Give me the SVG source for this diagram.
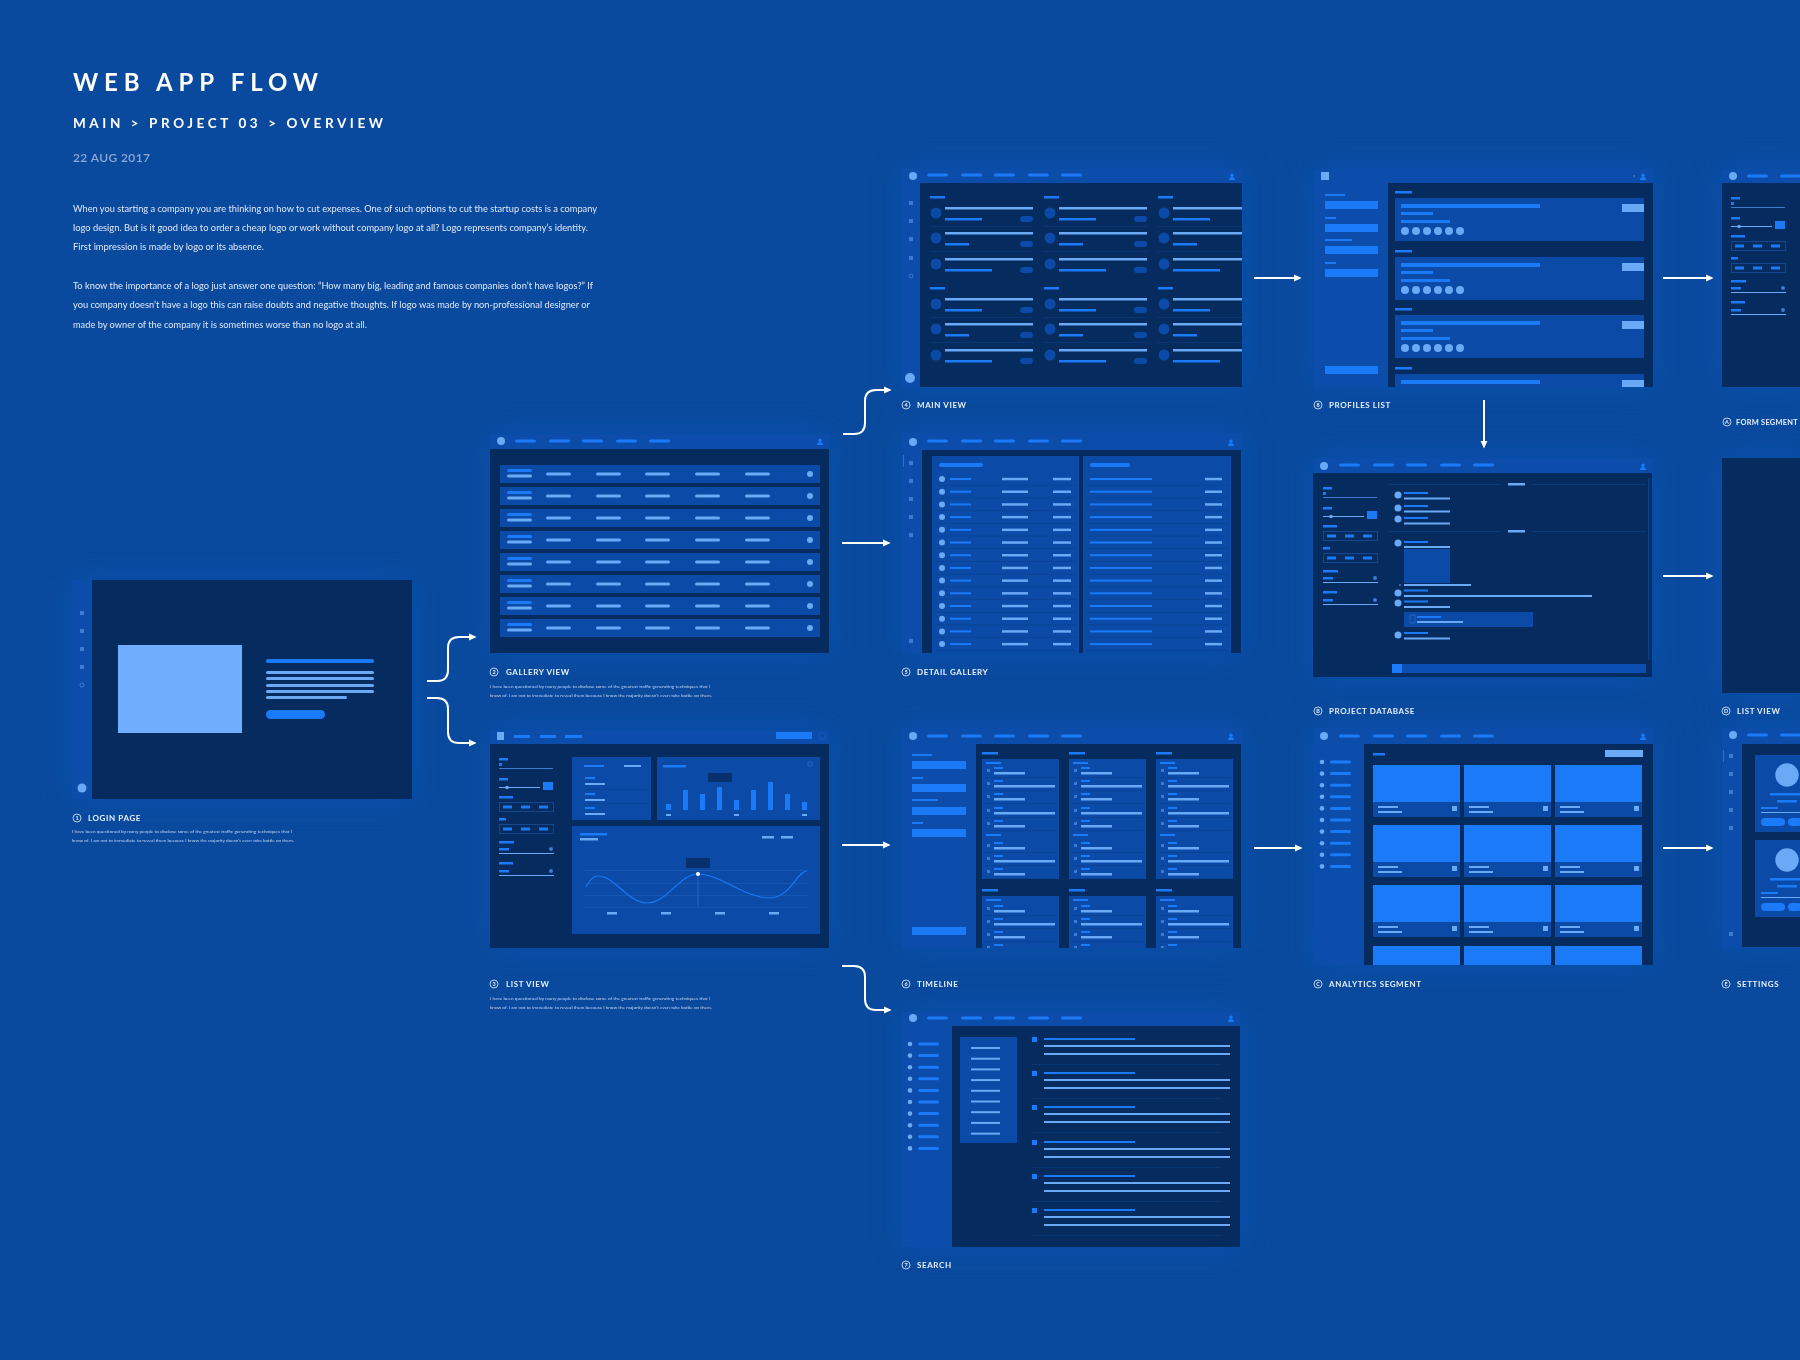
<svg xmlns="http://www.w3.org/2000/svg" xmlns:xlink="http://www.w3.org/1999/xlink" width="1800" height="1360" viewBox="0 0 1800 1360">
<style>
.fr{fill:#0c4cab}.dk{fill:#062b5e}.md{fill:#0b4aa6}.b{fill:#1a7af8}.l{fill:#6aa9f5}.ld{fill:#3d7ad0}.sep{fill:#0c3f86}
.glow{fill:#1c5cc0;opacity:0.45}
.ttl{font-family:Lato,"Open Sans",sans-serif;font-weight:700;fill:#ffffff}
.par{font-family:Lato,"Open Sans",sans-serif;font-size:9.5px;fill:#dfe8f8}
.lab{font-family:Lato,"Open Sans",sans-serif;font-weight:700;font-size:8px;letter-spacing:0.6px;fill:#e6eefb}
.num{font-family:Lato,"Open Sans",sans-serif;font-weight:700;font-size:5.5px;fill:#e6eefb;text-anchor:middle}
.nc{fill:none;stroke:#e6eefb;stroke-width:0.8}
.desc{font-family:Lato,"Open Sans",sans-serif;font-size:4.3px;fill:#c3d3ee}
.con{fill:none;stroke:#ffffff;stroke-width:2}
</style>
<defs>
<filter id="blur" x="-20%" y="-20%" width="140%" height="140%"><feGaussianBlur stdDeviation="14"/></filter>
<marker id="ah" viewBox="0 0 10 10" refX="8" refY="5" markerWidth="8" markerHeight="8" markerUnits="userSpaceOnUse" orient="auto"><path d="M0,0.5 L10,5 L0,9.5 z" fill="#ffffff"/></marker>
<clipPath id="cMV"><rect x="920" y="183" width="322" height="204"/></clipPath>
<clipPath id="cPL"><rect x="1388" y="183" width="265" height="204"/></clipPath>
<clipPath id="cTL"><rect x="976" y="744" width="265" height="204"/></clipPath>
<clipPath id="cAN"><rect x="1364" y="744" width="289" height="221"/></clipPath>
<g id="person"><circle cx="0" cy="-1.8" r="1.7" class="b"/><path d="M-3,3 Q-3,0 0,0 Q3,0 3,3 z" class="b"/></g>
<g id="filter">
<rect x="0" y="-1" width="9" height="2.5" class="b"/><rect x="0" y="4" width="3" height="3" class="b"/><rect x="0" y="9" width="54" height="1" class="ld"/>
<rect x="0" y="19" width="9" height="2.5" class="b"/><rect x="0" y="28" width="41" height="1" class="l"/><circle cx="8" cy="28.5" r="1.8" class="l"/><rect x="44" y="23" width="10" height="8" class="b"/>
<rect x="0" y="37" width="14" height="2.5" class="b"/><rect x="0.5" y="43.5" width="54" height="9" fill="none" stroke="#1a4f9e" stroke-width="0.8"/><rect x="4" y="46.5" width="9" height="3" class="b"/><rect x="22" y="46.5" width="9" height="3" class="b"/><rect x="40" y="46.5" width="9" height="3" class="b"/>
<rect x="0" y="59" width="7" height="2.5" class="b"/><rect x="0.5" y="65.5" width="54" height="9" fill="none" stroke="#1a4f9e" stroke-width="0.8"/><rect x="4" y="68.5" width="9" height="3" class="b"/><rect x="22" y="68.5" width="9" height="3" class="b"/><rect x="40" y="68.5" width="9" height="3" class="b"/>
<rect x="0" y="82" width="15" height="2.5" class="b"/><rect x="0" y="89" width="10" height="2.5" class="b"/><circle cx="52" cy="90" r="2" class="ld"/><rect x="0" y="94" width="55" height="1" class="l"/>
<rect x="0" y="103" width="14" height="2.5" class="b"/><rect x="0" y="111" width="10" height="2.5" class="b"/><circle cx="52" cy="112" r="2" class="ld"/><rect x="0" y="116" width="55" height="1" class="l"/>
</g>
<g id="nav5"><rect x="0" y="-1.5" width="21" height="3" rx="1.5" class="b"/><rect x="34" y="-1.5" width="21" height="3" rx="1.5" class="b"/><rect x="67" y="-1.5" width="21" height="3" rx="1.5" class="b"/><rect x="101" y="-1.5" width="21" height="3" rx="1.5" class="b"/><rect x="134" y="-1.5" width="21" height="3" rx="1.5" class="b"/></g>
<g id="gr"><rect x="500" y="0" width="320" height="18" class="md"/><rect x="507" y="4" width="25" height="3" rx="1.5" class="b"/><rect x="507" y="9.5" width="25" height="3" rx="1.5" class="l"/><rect x="546" y="7.5" width="25" height="3" rx="1.5" class="l"/><rect x="596" y="7.5" width="25" height="3" rx="1.5" class="l"/><rect x="645" y="7.5" width="25" height="3" rx="1.5" class="l"/><rect x="695" y="7.5" width="25" height="3" rx="1.5" class="l"/><rect x="745" y="7.5" width="25" height="3" rx="1.5" class="l"/><circle cx="810" cy="9" r="3" class="l"/></g>
<g id="mvgrp"><rect x="930" y="0" width="15" height="2.5" class="b"/>
<circle cx="936" cy="17" r="5.5" class="md"/><rect x="945" y="11" width="88" height="2.5" class="l"/><rect x="945" y="22" width="37" height="2.5" class="b"/><rect x="1020" y="20" width="13" height="6" rx="3" class="md"/><rect x="930" y="30" width="103" height="0.6" class="sep"/>
<circle cx="936" cy="42" r="5.5" class="md"/><rect x="945" y="36" width="88" height="2.5" class="l"/><rect x="945" y="47" width="24" height="2.5" class="b"/><rect x="1020" y="45" width="13" height="6" rx="3" class="md"/><rect x="930" y="55" width="103" height="0.6" class="sep"/>
<circle cx="936" cy="68" r="5.5" class="md"/><rect x="945" y="62" width="88" height="2.5" class="l"/><rect x="945" y="73" width="47" height="2.5" class="b"/><rect x="1020" y="71" width="13" height="6" rx="3" class="md"/></g>
<g id="dgr"><circle cx="942" cy="0" r="3" class="l"/><rect x="950" y="-1" width="21" height="2" class="b"/><rect x="1002" y="-1.2" width="26" height="2.5" class="l"/><rect x="1053" y="-1.2" width="18" height="2.5" class="l"/><rect x="1090" y="-1" width="62" height="2" class="b"/><rect x="1205" y="-1.2" width="17" height="2.5" class="l"/><rect x="935" y="6" width="141" height="0.5" class="sep"/><rect x="1086" y="6" width="142" height="0.5" class="sep"/></g>
<g id="pcard"><rect x="1395" y="-7" width="17" height="2.5" class="b"/><rect x="1395" y="0" width="249" height="43" class="md"/><rect x="1401" y="6" width="139" height="4" class="b"/><rect x="1401" y="14" width="32" height="3" class="b"/><rect x="1401" y="22" width="49" height="3" class="b"/><circle cx="1405" cy="33" r="4" class="l"/><circle cx="1416" cy="33" r="4" class="l"/><circle cx="1427" cy="33" r="4" class="l"/><circle cx="1438" cy="33" r="4" class="l"/><circle cx="1449" cy="33" r="4" class="l"/><circle cx="1460" cy="33" r="4" class="l"/><rect x="1622" y="6" width="22" height="8" class="l"/></g>
<g id="tli"><rect x="987" y="-1" width="3" height="3" class="ld"/><rect x="994" y="-3" width="9" height="2" class="b"/><rect x="985" y="7" width="71" height="0.5" class="sep"/></g>
<g id="tlcol"><rect x="982" y="752" width="16" height="2.5" class="b"/><rect x="982" y="759" width="77" height="120" class="md"/><rect x="986" y="762" width="15" height="2" class="b"/>
<use xlink:href="#tli" y="770"/><rect x="994" y="772" width="31" height="2.5" class="l"/>
<use xlink:href="#tli" y="783"/><rect x="994" y="785" width="61" height="2.5" class="l"/>
<use xlink:href="#tli" y="796"/><rect x="994" y="798" width="31" height="2.5" class="l"/>
<use xlink:href="#tli" y="810"/><rect x="994" y="812" width="61" height="2.5" class="l"/>
<use xlink:href="#tli" y="823"/><rect x="994" y="825" width="31" height="2.5" class="l"/>
<rect x="986" y="834" width="15" height="2" class="b"/>
<use xlink:href="#tli" y="845"/><rect x="994" y="847" width="31" height="2.5" class="l"/>
<use xlink:href="#tli" y="858"/><rect x="994" y="860" width="61" height="2.5" class="l"/>
<use xlink:href="#tli" y="871"/><rect x="994" y="873" width="31" height="2.5" class="l"/>
<rect x="982" y="889" width="16" height="2.5" class="b"/><rect x="982" y="896" width="77" height="60" class="md"/><rect x="986" y="899" width="15" height="2" class="b"/>
<use xlink:href="#tli" y="908"/><rect x="994" y="910" width="31" height="2.5" class="l"/>
<use xlink:href="#tli" y="921"/><rect x="994" y="923" width="61" height="2.5" class="l"/>
<use xlink:href="#tli" y="934"/><rect x="994" y="936" width="31" height="2.5" class="l"/>
<use xlink:href="#tli" y="947"/></g>
<g id="acard"><rect x="0" y="0" width="87" height="37" class="b"/><rect x="0" y="37" width="87" height="15" class="md"/><rect x="5" y="41" width="20" height="2" class="l"/><rect x="5" y="46" width="24" height="2" class="l"/><rect x="79" y="41" width="5" height="5" class="l"/></g>
<g id="adot"><circle cx="1322" cy="0" r="2.3" class="l"/><rect x="1330" y="-1.5" width="21" height="3" rx="1.5" class="b"/></g>
<g id="sri"><rect x="1032" y="0" width="5" height="5" class="b"/><rect x="1044" y="1" width="91" height="2" class="b"/><rect x="1044" y="8" width="186" height="2" class="l"/><rect x="1044" y="16" width="186" height="2" class="l"/><rect x="1032" y="27" width="189" height="0.6" class="sep"/></g>
<g id="desc"><text class="desc" x="0" y="0" textLength="220" lengthAdjust="spacingAndGlyphs">I have been questioned by many people to disclose some of the greatest traffic generating techniques that I</text><text class="desc" x="0" y="9" textLength="222" lengthAdjust="spacingAndGlyphs">know of. I am not to immediate to reveal them because I know the majority doesn't even take battle on them.</text></g>
</defs>

<rect x="0" y="0" width="1800" height="1360" fill="#0a4a9e"/>

<g id="glows" filter="url(#blur)">
<rect class="glow" x="72" y="580" width="340" height="219"/>
<rect class="glow" x="490" y="434" width="339" height="219"/>
<rect class="glow" x="490" y="730" width="339" height="218"/>
<rect class="glow" x="902" y="169" width="340" height="218"/>
<rect class="glow" x="902" y="433" width="340" height="220"/>
<rect class="glow" x="902" y="728" width="339" height="220"/>
<rect class="glow" x="902" y="1012" width="338" height="235"/>
<rect class="glow" x="1314" y="169" width="339" height="218"/>
<rect class="glow" x="1313" y="458" width="339" height="219"/>
<rect class="glow" x="1313" y="728" width="340" height="237"/>
<rect class="glow" x="1722" y="169" width="90" height="218"/>
<rect class="glow" x="1722" y="458" width="90" height="235"/>
<rect class="glow" x="1722" y="728" width="90" height="219"/>
</g>

<g id="header">
<text class="ttl" x="73" y="91" font-size="24" textLength="245" lengthAdjust="spacing">WEB APP FLOW</text>
<text class="ttl" x="73" y="128" font-size="13.5" textLength="310" lengthAdjust="spacing">MAIN &gt; PROJECT 03 &gt; OVERVIEW</text>
<text x="73" y="162" font-family="Lato,'Open Sans',sans-serif" font-size="12" font-weight="600" fill="#8ea9d6" textLength="77" lengthAdjust="spacing">22 AUG 2017</text>
<text class="par" x="73" y="212" textLength="524" lengthAdjust="spacingAndGlyphs">When you starting a company you are thinking on how to cut expenses. One of such options to cut the startup costs is a company</text>
<text class="par" x="73" y="231" textLength="515" lengthAdjust="spacingAndGlyphs">logo design. But is it good idea to order a cheap logo or work without company logo at all?  Logo represents company’s identity.</text>
<text class="par" x="73" y="250" textLength="191" lengthAdjust="spacingAndGlyphs">First impression is made by logo or its absence.</text>
<text class="par" x="73" y="289" textLength="520" lengthAdjust="spacingAndGlyphs">To know the importance of a logo just answer one question: “How many big, leading and famous companies don’t have logos?” If</text>
<text class="par" x="73" y="308" textLength="517" lengthAdjust="spacingAndGlyphs">you company doesn’t have a logo this can raise doubts and negative thoughts. If logo was made by non-professional designer or</text>
<text class="par" x="73" y="328" textLength="294" lengthAdjust="spacingAndGlyphs">made by owner of the company it is sometimes worse than no logo at all.</text>
</g>

<g id="connectors">
<path class="con" d="M427 681 H437 Q448 681 448 670 V648 Q448 637 459 637 H475" marker-end="url(#ah)"/>
<path class="con" d="M427 698 H437 Q448 698 448 709 V732 Q448 743 459 743 H475" marker-end="url(#ah)"/>
<path class="con" d="M843 434 H854 Q865 434 865 423 V401 Q865 390 876 390 H890" marker-end="url(#ah)"/>
<path class="con" d="M842 543 H889" marker-end="url(#ah)"/>
<path class="con" d="M842 845 H889" marker-end="url(#ah)"/>
<path class="con" d="M842 966 H854 Q865 966 865 977 V999 Q865 1010 876 1010 H890" marker-end="url(#ah)"/>
<path class="con" d="M1254 278 H1300" marker-end="url(#ah)"/>
<path class="con" d="M1663 278 H1712" marker-end="url(#ah)"/>
<path class="con" d="M1484 400 V447" marker-end="url(#ah)"/>
<path class="con" d="M1663 576 H1712" marker-end="url(#ah)"/>
<path class="con" d="M1254 848 H1301" marker-end="url(#ah)"/>
<path class="con" d="M1663 848 H1712" marker-end="url(#ah)"/>
</g>

<g id="n-login">
<rect x="72" y="580" width="340" height="219" class="fr"/>
<rect x="92" y="580" width="320" height="219" class="dk"/>
<rect x="80" y="611" width="4" height="4" class="ld"/><rect x="80" y="629" width="4" height="4" class="ld"/><rect x="80" y="647" width="4" height="4" class="ld"/><rect x="80" y="665" width="4" height="4" class="ld"/><circle cx="82" cy="685" r="2" fill="none" stroke="#3d7ad0" stroke-width="1"/>
<circle cx="82" cy="788" r="4.5" class="l"/>
<rect x="118" y="645" width="124" height="88" fill="#6eaefc"/>
<rect x="266" y="659" width="108" height="4" rx="2" class="b"/>
<rect x="266" y="671" width="108" height="3" rx="1.5" class="l"/><rect x="266" y="677" width="108" height="3" rx="1.5" class="l"/><rect x="266" y="684" width="108" height="3" rx="1.5" class="l"/><rect x="266" y="690" width="108" height="3" rx="1.5" class="l"/><rect x="266" y="696" width="81" height="3" rx="1.5" class="l"/>
<rect x="266" y="710" width="59" height="9" rx="4.5" class="b"/>
<circle class="nc" cx="77" cy="818" r="4"/><text class="num" x="77" y="820">1</text><text class="lab" x="88" y="821">LOGIN PAGE</text>
<use xlink:href="#desc" x="72" y="833"/>
</g>

<g id="n-gallery">
<rect x="490" y="434" width="339" height="219" class="fr"/>
<rect x="490" y="449" width="339" height="204" class="dk"/>
<circle cx="501" cy="441" r="4" class="l"/><use xlink:href="#nav5" x="515" y="441"/><use xlink:href="#person" x="820" y="442"/>
<use xlink:href="#gr" y="465"/><use xlink:href="#gr" y="487"/><use xlink:href="#gr" y="509"/><use xlink:href="#gr" y="531"/><use xlink:href="#gr" y="553"/><use xlink:href="#gr" y="575"/><use xlink:href="#gr" y="597"/><use xlink:href="#gr" y="619"/>
<circle class="nc" cx="494" cy="672" r="4"/><text class="num" x="494" y="674">2</text><text class="lab" x="506" y="675">GALLERY VIEW</text>
<use xlink:href="#desc" x="490" y="688"/>
</g>

<g id="n-listview">
<rect x="490" y="730" width="339" height="218" class="fr"/>
<rect x="490" y="744" width="339" height="204" class="dk"/>
<rect x="497" y="732" width="7" height="8" class="l"/>
<rect x="514" y="735" width="16" height="3" class="b"/><rect x="540" y="735" width="16" height="3" class="b"/><rect x="565" y="735" width="17" height="3" class="b"/>
<rect x="776" y="732" width="36" height="7" class="b"/><circle cx="822" cy="736" r="3.5" fill="none" stroke="#1a5bb8" stroke-width="0.8"/>
<use xlink:href="#filter" x="499" y="759"/>
<rect x="572" y="757" width="79" height="63" class="md"/>
<rect x="584" y="765" width="20" height="2" class="b"/><rect x="624" y="765" width="17" height="2" class="l"/>
<rect x="585" y="777" width="10" height="2" class="b"/><rect x="585" y="783" width="20" height="2" class="l"/><rect x="585" y="789" width="62" height="0.5" class="sep"/>
<rect x="585" y="793" width="10" height="2" class="b"/><rect x="585" y="799" width="20" height="2" class="l"/><rect x="585" y="803" width="62" height="0.5" class="sep"/>
<rect x="585" y="807" width="10" height="2" class="b"/><rect x="585" y="813" width="20" height="2" class="l"/>
<rect x="657" y="757" width="163" height="63" class="md"/>
<rect x="663" y="765" width="23" height="2.5" class="b"/><rect x="808" y="762" width="4" height="4" fill="none" stroke="#2f6fcf" stroke-width="0.7"/>
<rect x="708" y="773" width="24" height="9" class="dk" opacity="0.8"/>
<rect x="666" y="804" width="5" height="6" class="b"/><rect x="683" y="790" width="5" height="20" class="b"/><rect x="700" y="794" width="5" height="16" class="b"/><rect x="717" y="787" width="5" height="23" class="b"/><rect x="734" y="800" width="5" height="10" class="b"/><rect x="751" y="790" width="5" height="20" class="b"/><rect x="768" y="782" width="5" height="28" class="b"/><rect x="785" y="794" width="5" height="16" class="b"/><rect x="802" y="802" width="5" height="8" class="b"/>
<rect x="666" y="814" width="5" height="2" class="l"/><rect x="734" y="814" width="5" height="2" class="l"/><rect x="802" y="814" width="5" height="2" class="l"/>
<rect x="572" y="826" width="248" height="108" class="md"/>
<rect x="580" y="833" width="27" height="2.5" class="b"/><rect x="580" y="838" width="18" height="2.5" class="l"/>
<rect x="762" y="836" width="12" height="2.5" class="l"/><rect x="781" y="836" width="12" height="2.5" class="l"/>
<rect x="584" y="870" width="224" height="0.5" class="ld" opacity="0.5"/><rect x="584" y="883" width="224" height="0.5" class="ld" opacity="0.5"/><rect x="584" y="895" width="224" height="0.5" class="ld" opacity="0.5"/><rect x="584" y="907" width="224" height="0.5" class="ld" opacity="0.5"/>
<rect x="686" y="858" width="24" height="10" class="dk" opacity="0.8"/>
<rect x="697.7" y="874" width="0.6" height="33" class="ld"/>
<path d="M586 887 C591 878 594 876 598 876 C615 876 628 903 647 903 C667 903 680 874 698 874 C720 874 745 898 770 898 C790 898 797 871 807 871" fill="none" stroke="#1a7af8" stroke-width="1.2"/>
<circle cx="698" cy="874" r="2" fill="#ffffff"/>
<rect x="607" y="912" width="10" height="2.5" class="l"/><rect x="661" y="912" width="10" height="2.5" class="l"/><rect x="715" y="912" width="10" height="2.5" class="l"/><rect x="769" y="912" width="10" height="2.5" class="l"/>
<circle class="nc" cx="494" cy="984" r="4"/><text class="num" x="494" y="986">3</text><text class="lab" x="506" y="987">LIST VIEW</text>
<use xlink:href="#desc" x="490" y="1000"/>
</g>

<g id="n-mainview">
<rect x="902" y="169" width="340" height="218" class="fr"/>
<rect x="920" y="183" width="322" height="204" class="dk"/>
<circle cx="913" cy="176" r="4" class="l"/><use xlink:href="#nav5" x="927" y="175"/><use xlink:href="#person" x="1232" y="177"/>
<rect x="909" y="201" width="4" height="4" class="ld"/><rect x="909" y="219" width="4" height="4" class="ld"/><rect x="909" y="237" width="4" height="4" class="ld"/><rect x="909" y="256" width="4" height="4" class="ld"/><circle cx="911" cy="276" r="2" fill="none" stroke="#3d7ad0" stroke-width="1"/>
<circle cx="910" cy="378" r="5" class="l"/>
<g clip-path="url(#cMV)">
<use xlink:href="#mvgrp" y="196"/><use xlink:href="#mvgrp" x="114" y="196"/><use xlink:href="#mvgrp" x="228" y="196"/>
<use xlink:href="#mvgrp" y="287"/><use xlink:href="#mvgrp" x="114" y="287"/><use xlink:href="#mvgrp" x="228" y="287"/>
</g>
<circle class="nc" cx="906" cy="405" r="4"/><text class="num" x="906" y="407">4</text><text class="lab" x="917" y="408">MAIN VIEW</text>
</g>

<g id="n-detail">
<rect x="902" y="433" width="340" height="220" class="fr"/>
<rect x="922" y="450" width="319" height="203" class="dk"/>
<circle cx="913" cy="442" r="4" class="l"/><use xlink:href="#nav5" x="927" y="441"/><use xlink:href="#person" x="1231" y="443"/>
<rect x="903" y="455" width="0.8" height="12" class="ld"/>
<rect x="909" y="461" width="4" height="4" class="ld"/><rect x="909" y="479" width="4" height="4" class="ld"/><rect x="909" y="497" width="4" height="4" class="ld"/><rect x="909" y="515" width="4" height="4" class="ld"/><rect x="909" y="533" width="4" height="4" class="ld"/><rect x="909" y="639" width="4" height="4" class="ld"/>
<rect x="932" y="456" width="147" height="197" class="md"/><rect x="1083" y="456" width="148" height="197" class="md"/>
<rect x="939" y="463" width="44" height="4" rx="2" class="b"/><rect x="1090" y="463" width="40" height="4" rx="2" class="b"/>
<use xlink:href="#dgr" y="479"/><use xlink:href="#dgr" y="491.7"/><use xlink:href="#dgr" y="504.4"/><use xlink:href="#dgr" y="517.1"/><use xlink:href="#dgr" y="529.8"/><use xlink:href="#dgr" y="542.5"/><use xlink:href="#dgr" y="555.2"/><use xlink:href="#dgr" y="567.9"/><use xlink:href="#dgr" y="580.6"/><use xlink:href="#dgr" y="593.3"/><use xlink:href="#dgr" y="606"/><use xlink:href="#dgr" y="618.7"/><use xlink:href="#dgr" y="631.4"/><use xlink:href="#dgr" y="644.1"/>
<circle class="nc" cx="906" cy="672" r="4"/><text class="num" x="906" y="674">5</text><text class="lab" x="917" y="675">DETAIL GALLERY</text>
</g>

<g id="n-timeline">
<rect x="902" y="728" width="339" height="220" class="fr"/>
<rect x="976" y="744" width="265" height="204" class="dk"/>
<circle cx="913" cy="736" r="4" class="l"/><use xlink:href="#nav5" x="927" y="736"/><use xlink:href="#person" x="1231" y="737"/>
<rect x="912" y="754" width="20" height="2" class="b"/><rect x="912" y="761" width="54" height="8" class="b"/>
<rect x="912" y="777" width="11" height="2" class="b"/><rect x="912" y="784" width="54" height="8" class="b"/>
<rect x="912" y="799" width="26" height="2" class="b"/><rect x="912" y="807" width="54" height="8" class="b"/>
<rect x="912" y="822" width="11" height="2" class="b"/><rect x="912" y="829" width="54" height="8" class="b"/>
<rect x="912" y="927" width="54" height="8" class="b"/>
<g clip-path="url(#cTL)"><use xlink:href="#tlcol"/><use xlink:href="#tlcol" x="87"/><use xlink:href="#tlcol" x="174"/></g>
<circle class="nc" cx="906" cy="984" r="4"/><text class="num" x="906" y="986">6</text><text class="lab" x="917" y="987">TIMELINE</text>
</g>

<g id="n-search">
<rect x="902" y="1012" width="338" height="235" class="fr"/>
<rect x="952" y="1026" width="288" height="221" class="dk"/>
<circle cx="913" cy="1018" r="4" class="l"/><use xlink:href="#nav5" x="927" y="1018"/><use xlink:href="#person" x="1231" y="1019"/>
<circle cx="910" cy="1044" r="2.3" class="l"/><rect x="918" y="1042.5" width="21" height="3" rx="1.5" class="b"/>
<circle cx="910" cy="1055.6" r="2.3" class="l"/><rect x="918" y="1054.1" width="21" height="3" rx="1.5" class="b"/>
<circle cx="910" cy="1067.2" r="2.3" class="l"/><rect x="918" y="1065.7" width="21" height="3" rx="1.5" class="b"/>
<circle cx="910" cy="1078.8" r="2.3" class="l"/><rect x="918" y="1077.3" width="21" height="3" rx="1.5" class="b"/>
<circle cx="910" cy="1090.4" r="2.3" class="l"/><rect x="918" y="1088.9" width="21" height="3" rx="1.5" class="b"/>
<circle cx="910" cy="1102" r="2.3" class="l"/><rect x="918" y="1100.5" width="21" height="3" rx="1.5" class="b"/>
<circle cx="910" cy="1113.6" r="2.3" class="l"/><rect x="918" y="1112.1" width="21" height="3" rx="1.5" class="b"/>
<circle cx="910" cy="1125.2" r="2.3" class="l"/><rect x="918" y="1123.7" width="21" height="3" rx="1.5" class="b"/>
<circle cx="910" cy="1136.8" r="2.3" class="l"/><rect x="918" y="1135.3" width="21" height="3" rx="1.5" class="b"/>
<circle cx="910" cy="1148.4" r="2.3" class="l"/><rect x="918" y="1146.9" width="21" height="3" rx="1.5" class="b"/>
<rect x="960" y="1037" width="57" height="106" class="md"/>
<rect x="971" y="1047" width="29" height="2" class="l"/><rect x="971" y="1057.7" width="29" height="2" class="l"/><rect x="971" y="1068.4" width="29" height="2" class="l"/><rect x="971" y="1079.1" width="29" height="2" class="l"/><rect x="971" y="1089.8" width="29" height="2" class="l"/><rect x="971" y="1100.5" width="29" height="2" class="l"/><rect x="971" y="1111.2" width="29" height="2" class="l"/><rect x="971" y="1121.9" width="29" height="2" class="l"/><rect x="971" y="1132.6" width="29" height="2" class="l"/>
<use xlink:href="#sri" y="1037"/><use xlink:href="#sri" y="1071"/><use xlink:href="#sri" y="1105"/><use xlink:href="#sri" y="1140"/><use xlink:href="#sri" y="1174"/><use xlink:href="#sri" y="1208"/>
<circle class="nc" cx="906" cy="1265" r="4"/><text class="num" x="906" y="1267">7</text><text class="lab" x="917" y="1268">SEARCH</text>
</g>

<g id="n-profiles">
<rect x="1314" y="169" width="339" height="218" class="fr"/>
<rect x="1388" y="183" width="265" height="204" class="dk"/>
<rect x="1321" y="172" width="8" height="8" class="l"/><use xlink:href="#person" x="1643" y="177"/><circle cx="1634" cy="176" r="0.7" class="l"/>
<rect x="1325" y="194" width="20" height="2" class="b"/><rect x="1325" y="201" width="53" height="8" class="b"/>
<rect x="1325" y="217" width="11" height="2" class="b"/><rect x="1325" y="224" width="53" height="8" class="b"/>
<rect x="1325" y="239" width="27" height="2" class="b"/><rect x="1325" y="246" width="53" height="8" class="b"/>
<rect x="1325" y="262" width="11" height="2" class="b"/><rect x="1325" y="269" width="53" height="8" class="b"/>
<rect x="1325" y="366" width="53" height="8" class="b"/>
<g clip-path="url(#cPL)"><use xlink:href="#pcard" y="198"/><use xlink:href="#pcard" y="257"/><use xlink:href="#pcard" y="315"/><use xlink:href="#pcard" y="374"/></g>
<circle class="nc" cx="1318" cy="405" r="4"/><text class="num" x="1318" y="407">8</text><text class="lab" x="1329" y="408">PROFILES LIST</text>
</g>

<g id="n-form">
<rect x="1722" y="169" width="78" height="218" class="fr"/>
<rect x="1722" y="183" width="78" height="204" class="dk"/>
<circle cx="1733" cy="176" r="4" class="l"/><rect x="1747" y="174.5" width="21" height="3" rx="1.5" class="b"/><rect x="1780" y="174.5" width="21" height="3" rx="1.5" class="b"/>
<use xlink:href="#filter" x="1731" y="198"/>
<circle class="nc" cx="1727" cy="422" r="4"/><text class="num" x="1727" y="424">A</text><text class="lab" x="1736" y="425" style="letter-spacing:0.3px" textLength="62" lengthAdjust="spacingAndGlyphs">FORM SEGMENT</text>
</g>

<g id="n-database">
<rect x="1313" y="458" width="339" height="219" class="fr"/>
<rect x="1313" y="473" width="339" height="204" class="dk"/>
<circle cx="1324" cy="466" r="4" class="l"/><use xlink:href="#nav5" x="1339" y="465"/><use xlink:href="#person" x="1643" y="467"/>
<use xlink:href="#filter" x="1323" y="488"/>
<rect x="1648" y="478" width="1.5" height="182" class="sep"/>
<rect x="1389" y="484" width="112" height="0.7" class="sep"/><rect x="1532" y="484" width="114" height="0.7" class="sep"/><rect x="1508" y="483" width="17" height="2.5" class="l"/>
<circle cx="1398" cy="495" r="3.5" class="l"/><rect x="1404" y="492" width="24" height="2" class="b"/><rect x="1404" y="497.5" width="46" height="2" class="l"/>
<circle cx="1398" cy="508" r="3.5" class="l"/><rect x="1404" y="505" width="24" height="2" class="b"/><rect x="1404" y="510.5" width="46" height="2" class="l"/>
<circle cx="1398" cy="519" r="3.5" class="l"/><rect x="1404" y="517" width="24" height="2" class="b"/><rect x="1404" y="522.5" width="46" height="2" class="l"/>
<rect x="1389" y="531" width="112" height="0.7" class="sep"/><rect x="1532" y="531" width="114" height="0.7" class="sep"/><rect x="1508" y="530" width="17" height="2.5" class="l"/>
<circle cx="1398" cy="543" r="3.5" class="l"/><rect x="1404" y="541" width="24" height="2" class="b"/><rect x="1404" y="546" width="46" height="2" class="l"/>
<rect x="1404" y="549" width="46" height="34" class="md"/>
<rect x="1399" y="584.5" width="2" height="1" class="l"/><rect x="1404" y="584" width="67" height="2" class="l"/>
<circle cx="1398" cy="593" r="3.5" class="l"/><rect x="1404" y="589.5" width="24" height="2" class="b"/><rect x="1404" y="595" width="188" height="2" class="l"/>
<circle cx="1398" cy="603" r="3.5" class="l"/><rect x="1404" y="600.5" width="24" height="2" class="b"/><rect x="1404" y="606" width="46" height="2" class="l"/>
<rect x="1404" y="612" width="129" height="15" class="md"/><rect x="1410" y="615" width="5" height="8" fill="none" stroke="#2f6fcf" stroke-width="0.7"/><rect x="1417" y="616" width="24" height="2" class="b"/><rect x="1417" y="621" width="46" height="2" class="l"/>
<circle cx="1398" cy="635" r="3.5" class="l"/><rect x="1404" y="632" width="24" height="2" class="b"/><rect x="1404" y="637.5" width="46" height="2" class="l"/>
<rect x="1392" y="664" width="254" height="9" fill="#0c4fb2"/><rect x="1392" y="664" width="10" height="9" class="b"/>
<circle class="nc" cx="1318" cy="711" r="4"/><text class="num" x="1318" y="713">B</text><text class="lab" x="1329" y="714">PROJECT DATABASE</text>
</g>

<g id="n-listview-d">
<rect x="1722" y="458" width="78" height="235" class="dk"/>
<circle class="nc" cx="1726" cy="711" r="4"/><text class="num" x="1726" y="713">D</text><text class="lab" x="1737" y="714">LIST VIEW</text>
</g>

<g id="n-analytics">
<rect x="1313" y="728" width="340" height="237" class="fr"/>
<rect x="1364" y="744" width="289" height="221" class="dk"/>
<circle cx="1324" cy="736" r="4" class="l"/><use xlink:href="#nav5" x="1339" y="736"/><use xlink:href="#person" x="1643" y="737"/>
<use xlink:href="#adot" y="762"/><use xlink:href="#adot" y="773.6"/><use xlink:href="#adot" y="785.2"/><use xlink:href="#adot" y="796.8"/><use xlink:href="#adot" y="808.4"/><use xlink:href="#adot" y="820"/><use xlink:href="#adot" y="831.6"/><use xlink:href="#adot" y="843.2"/><use xlink:href="#adot" y="854.8"/><use xlink:href="#adot" y="866.4"/>
<rect x="1373" y="753" width="12" height="2.5" class="b"/><rect x="1605" y="750" width="38" height="7" class="l"/>
<g clip-path="url(#cAN)">
<use xlink:href="#acard" x="1373" y="765"/><use xlink:href="#acard" x="1464" y="765"/><use xlink:href="#acard" x="1555" y="765"/>
<use xlink:href="#acard" x="1373" y="825"/><use xlink:href="#acard" x="1464" y="825"/><use xlink:href="#acard" x="1555" y="825"/>
<use xlink:href="#acard" x="1373" y="885"/><use xlink:href="#acard" x="1464" y="885"/><use xlink:href="#acard" x="1555" y="885"/>
<use xlink:href="#acard" x="1373" y="946"/><use xlink:href="#acard" x="1464" y="946"/><use xlink:href="#acard" x="1555" y="946"/>
</g>
<circle class="nc" cx="1318" cy="984" r="4"/><text class="num" x="1318" y="986">C</text><text class="lab" x="1329" y="987">ANALYTICS SEGMENT</text>
</g>

<g id="n-settings">
<rect x="1722" y="728" width="78" height="219" class="fr"/>
<rect x="1742" y="744" width="58" height="203" class="dk"/>
<circle cx="1733" cy="735" r="4" class="l"/><rect x="1747" y="733.5" width="21" height="3" rx="1.5" class="b"/><rect x="1780" y="733.5" width="21" height="3" rx="1.5" class="b"/>
<rect x="1723" y="750" width="0.8" height="12" class="ld"/>
<rect x="1729" y="754" width="4" height="4" class="ld"/><rect x="1729" y="772" width="4" height="4" class="ld"/><rect x="1729" y="790" width="4" height="4" class="ld"/><rect x="1729" y="808" width="4" height="4" class="ld"/><rect x="1729" y="826" width="4" height="4" class="ld"/><rect x="1729" y="932" width="4" height="4" class="ld"/>
<rect x="1755" y="755" width="45" height="77" class="md"/>
<circle cx="1787" cy="775" r="11.7" class="l"/><rect x="1770" y="793" width="30" height="2.5" class="b"/><rect x="1777" y="800" width="20" height="2.5" class="b"/><rect x="1761" y="807" width="17" height="2" class="b"/><rect x="1761" y="812" width="39" height="1" class="l"/><rect x="1761" y="818" width="24" height="8" rx="4" class="b"/><rect x="1788" y="818" width="14" height="8" rx="4" class="b"/>
<rect x="1755" y="840" width="45" height="77" class="md"/>
<circle cx="1787" cy="860" r="11.7" class="l"/><rect x="1770" y="878" width="30" height="2.5" class="b"/><rect x="1777" y="885" width="20" height="2.5" class="b"/><rect x="1761" y="892" width="17" height="2" class="b"/><rect x="1761" y="897" width="39" height="1" class="l"/><rect x="1761" y="903" width="24" height="8" rx="4" class="b"/><rect x="1788" y="903" width="14" height="8" rx="4" class="b"/>
<circle class="nc" cx="1726" cy="984" r="4"/><text class="num" x="1726" y="986">E</text><text class="lab" x="1737" y="987">SETTINGS</text>
</g>
</svg>
